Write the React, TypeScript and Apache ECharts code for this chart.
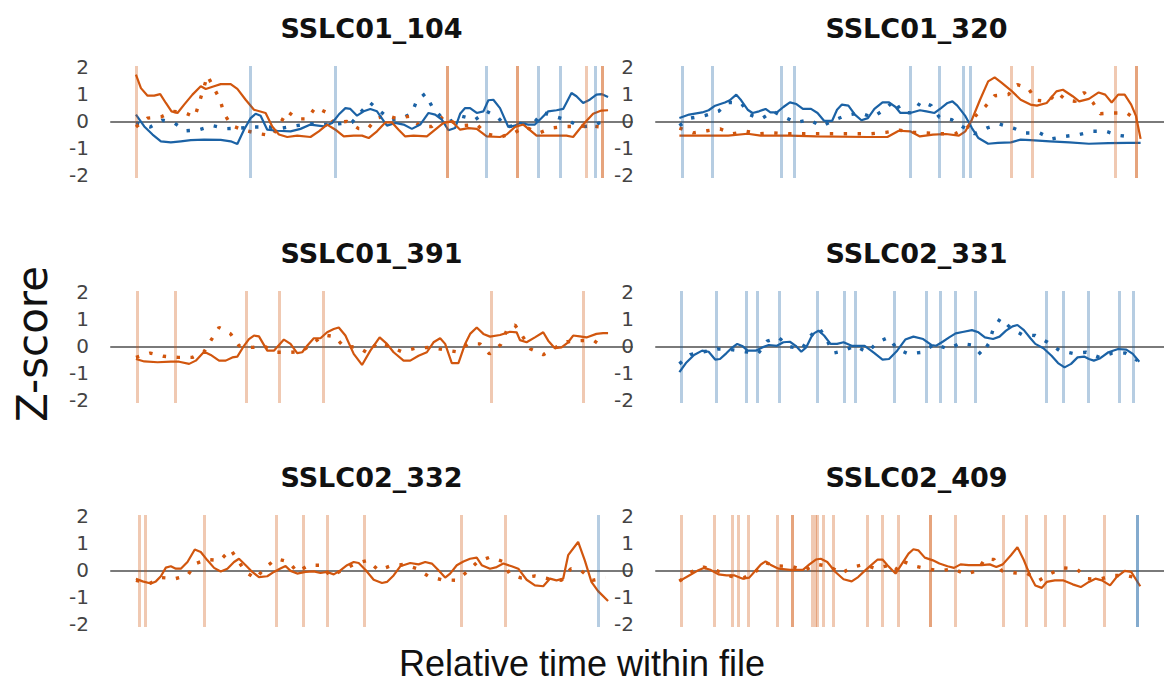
import React, { useEffect, useRef } from "react";
import * as echarts from "echarts";

// ---- data (relative time units, z-scores) ----
const panelNames = ["SSLC01_104", "SSLC01_320", "SSLC01_391", "SSLC02_331", "SSLC02_332", "SSLC02_409"];
const yTicks = [-2, -1, 0, 1, 2];

const p1OrangeSolid = [[0,1.73],[15,1.23],[35,0.95],[55,0.95],[73,1.01],[90,0.68],[107,0.37],[125,0.31],[145,0.62],[170,0.99],[195,1.30],[210,1.20],[235,1.30],[255,1.38],[285,1.38],[305,1.20],[330,0.80],[355,0.43],[390,0.31],[410,-0.19],[430,-0.49],[455,-0.58],[485,-0.53],[525,-0.58],[550,-0.37],[575,-0.12],[600,-0.31],[625,-0.56],[655,-0.53],[680,-0.53],[700,-0.62],[725,-0.37],[750,-0.04],[770,-0.04],[790,-0.31],[810,-0.56],[835,-0.53],[875,-0.56],[900,-0.31],[925,-0.06],[950,0],[975,-0.31],[1000,-0.25],[1025,-0.28],[1055,-0.56],[1095,-0.58],[1115,-0.49],[1140,-0.21],[1165,-0.12],[1205,-0.53],[1255,-0.53],[1295,-0.53],[1315,-0.58],[1345,-0.12],[1375,0.28],[1400,0.40],[1420,0.41]];
const p1BlueSolid = [[0,0.25],[25,-0.19],[50,-0.49],[75,-0.74],[105,-0.78],[135,-0.74],[165,-0.70],[205,-0.68],[255,-0.69],[285,-0.74],[305,-0.84],[325,-0.31],[345,0.12],[360,0.28],[375,0.21],[395,-0.31],[425,-0.35],[465,-0.37],[495,-0.28],[525,-0.12],[565,-0.19],[590,-0.06],[610,0.25],[630,0.49],[645,0.46],[665,0.21],[685,0.37],[705,0.46],[725,0.37],[755,-0.16],[780,-0.06],[805,-0.12],[830,-0.28],[855,-0.12],[880,0.31],[900,0.25],[920,0.06],[940,-0.33],[960,-0.25],[975,0.28],[990,0.49],[1005,0.49],[1025,0.31],[1045,0.37],[1060,0.78],[1075,0.80],[1095,0.49],[1120,-0.21],[1140,-0.16],[1155,-0.06],[1180,-0.12],[1200,-0.12],[1220,0.12],[1240,0.37],[1265,0.41],[1285,0.46],[1310,1.05],[1325,0.93],[1345,0.68],[1365,0.80],[1385,0.99],[1400,1.01],[1420,0.90]];
const p1BlueDotted = [[0,-0.06],[43,-0.21],[80,0.04],[115,-0.06],[150,-0.35],[190,-0.31],[230,-0.16],[273,-0.27],[315,-0.25],[357,-0.21],[400,-0.21],[440,-0.25],[483,-0.16],[525,-0.09],[565,-0.12],[610,-0.09],[650,-0.04],[677,0.35],[703,0.70],[735,0.37],[765,0.06],[803,0.12],[830,0.31],[845,0.78],[870,1.02],[890,0.56],[925,0.06],[945,0],[980,0.19],[1020,0.06],[1055,0.37],[1085,0.19],[1115,-0.21],[1155,-0.12],[1195,-0.09],[1223,0.33],[1255,0.19],[1300,0.04],[1335,-0.21],[1375,-0.16],[1415,0.06]];
const p1OrangeDotted = [[0,-0.21],[35,0.12],[75,0.16],[110,0.37],[145,0.33],[177,0.16],[190,0.68],[203,1.20],[215,1.69],[253,0.80],[265,0.28],[288,-0.16],[325,-0.33],[370,-0.46],[410,-0.53],[435,-0.06],[455,0.37],[485,0.09],[515,0.09],[540,0.52],[573,0.33],[595,-0.06],[635,0],[670,-0.27],[697,-0.28],[725,0.12],[755,0.21],[785,0.10],[823,0.19],[855,-0.19],[890,-0.19],[925,0.19],[955,-0.04],[985,-0.16],[1025,-0.12],[1055,-0.46],[1095,-0.59],[1140,-0.41],[1170,-0.21],[1213,-0.43],[1250,-0.25],[1290,-0.19],[1335,-0.19],[1360,-0.16],[1400,-0.21]];
const p1EventsOrange = [0, 935, 935, 1147, 1147, 1353, 1403, 1403];
const p1EventsBlue = [345, 600, 1055, 1210, 1277, 1380];

const p2BlueSolid = [[0,0.12],[30,0.25],[70,0.33],[90,0.41],[110,0.58],[140,0.70],[155,0.78],[175,0.99],[190,0.78],[210,0.43],[225,0.31],[245,0.37],[265,0.46],[280,0.33],[300,0.33],[320,0.53],[340,0.70],[360,0.64],[380,0.46],[405,0.46],[425,0.31],[445,0.02],[470,0.02],[485,0.43],[500,0.62],[520,0.58],[540,0.25],[560,0.04],[580,0.12],[600,0.46],[625,0.70],[645,0.70],[665,0.53],[680,0.31],[710,0.31],[740,0.41],[760,0.37],[785,0.31],[805,0.49],[825,0.68],[840,0.74],[855,0.58],[880,0.19],[900,-0.25],[920,-0.62],[950,-0.83],[980,-0.80],[1020,-0.78],[1050,-0.68],[1080,-0.70],[1140,-0.74],[1200,-0.78],[1260,-0.83],[1320,-0.81],[1380,-0.80],[1419,-0.80]];
const p2OrangeSolid = [[0,-0.53],[80,-0.53],[150,-0.53],[210,-0.46],[250,-0.53],[340,-0.53],[420,-0.56],[580,-0.58],[640,-0.58],[675,-0.35],[710,-0.37],[740,-0.56],[780,-0.49],[820,-0.47],[860,-0.53],[880,-0.37],[900,0.06],[925,0.80],[950,1.48],[970,1.63],[990,1.44],[1020,1.15],[1050,0.80],[1080,0.62],[1100,0.58],[1130,0.68],[1160,1.11],[1180,1.17],[1210,0.93],[1230,0.74],[1260,0.83],[1290,1.07],[1310,0.99],[1330,0.70],[1350,0.99],[1370,0.99],[1390,0.62],[1405,0.19],[1419,-0.65]];
const p2BlueDotted = [[0,-0.16],[35,0.12],[78,0.21],[120,0.37],[152,0.70],[190,0.68],[215,0.25],[252,0.09],[288,0.37],[323,0.15],[360,-0.04],[400,0.06],[437,-0.19],[475,0.04],[513,0.22],[555,0.31],[595,0.15],[630,0.43],[662,0.77],[685,0.33],[720,0.31],[743,0.74],[775,0.58],[800,0.15],[838,0.06],[870,-0.19],[908,-0.46],[945,-0.25],[985,-0.10],[1027,-0.25],[1065,-0.43],[1108,-0.43],[1145,-0.65],[1185,-0.56],[1230,-0.49],[1270,-0.37],[1312,-0.37],[1352,-0.52],[1398,-0.59]];
const p2OrangeDotted = [[0,-0.25],[42,-0.43],[85,-0.35],[125,-0.28],[165,-0.46],[205,-0.37],[248,-0.46],[290,-0.43],[335,-0.46],[377,-0.46],[420,-0.46],[463,-0.46],[505,-0.46],[548,-0.46],[590,-0.46],[635,-0.41],[677,-0.33],[720,-0.41],[762,-0.43],[805,-0.46],[848,-0.46],[885,-0.25],[910,0.19],[942,0.56],[970,0.95],[1012,0.99],[1040,1.36],[1073,1.23],[1098,0.78],[1135,0.74],[1162,1.07],[1190,0.78],[1218,0.74],[1245,1.07],[1272,0.70],[1295,0.28],[1335,0.31],[1377,0.31],[1410,0.02]];
const p2EventsOrange = [1020, 1085, 1340, 1407, 1407];
const p2EventsBlue = [8, 100, 312, 352, 710, 800, 873, 895];

const p3OrangeSolid = [[0,-0.47],[25,-0.56],[65,-0.59],[105,-0.57],[130,-0.57],[160,-0.65],[180,-0.53],[205,-0.20],[225,-0.32],[250,-0.53],[270,-0.53],[290,-0.41],[305,-0.38],[325,0.02],[340,0.27],[355,0.40],[370,0.37],[395,-0.16],[415,-0.16],[445,0.25],[465,0.09],[485,-0.25],[500,-0.22],[515,0.02],[535,0.30],[555,0.30],[575,0.52],[595,0.64],[610,0.70],[630,0.40],[655,-0.28],[680,-0.69],[705,-0.16],[733,0.33],[755,0.09],[775,-0.22],[805,-0.53],[825,-0.53],[850,-0.35],[875,-0.22],[895,0.15],[915,0.30],[930,0.09],[950,-0.62],[970,-0.62],[990,0.09],[1005,0.46],[1025,0.70],[1045,0.46],[1065,0.36],[1095,0.42],[1125,0.54],[1145,0.52],[1155,0.23],[1175,0.15],[1200,0.33],[1225,0.52],[1240,0.21],[1260,-0.07],[1280,-0.04],[1300,0.15],[1315,0.40],[1335,0.37],[1355,0.33],[1385,0.46],[1405,0.49],[1420,0.49]];
const p3OrangeDotted = [[0,-0.41],[43,-0.25],[83,-0.37],[127,-0.41],[170,-0.41],[205,-0.20],[227,0.25],[250,0.70],[285,0.46],[310,0.02],[350,-0.04],[387,0],[422,-0.22],[463,-0.22],[497,-0.20],[530,0.09],[565,0.42],[598,0.36],[627,-0.04],[665,-0.01],[697,-0.25],[727,0.15],[763,-0.01],[800,-0.20],[840,-0.07],[883,-0.04],[923,-0.12],[963,-0.20],[1000,0.09],[1035,0.09],[1063,-0.28],[1097,0.06],[1115,0.58],[1140,0.79],[1165,0.33],[1187,-0.10],[1225,-0.31],[1257,-0.07],[1297,0.17],[1335,0.21],[1375,0.23],[1411,-0.07]];
const p3EventsOrange = [5, 118, 332, 432, 562, 1068, 1345];
const p3EventsBlue: number[] = [];

const p4BlueSolid = [[0,-0.96],[20,-0.62],[45,-0.32],[70,-0.16],[90,-0.20],[110,-0.49],[125,-0.47],[145,-0.25],[160,-0.07],[178,0.09],[195,0],[210,-0.16],[235,-0.16],[255,-0.04],[275,0.05],[300,0.02],[320,0.15],[340,0.17],[358,0.02],[375,-0.20],[390,-0.04],[405,0.33],[415,0.49],[428,0.58],[445,0.40],[465,0.09],[485,0.09],[505,0.15],[530,0.02],[570,0.02],[600,-0.25],[625,-0.49],[645,-0.47],[670,-0.16],[695,0.25],[720,0.36],[750,0.27],[775,0.05],[790,0.02],[810,0.17],[830,0.33],[850,0.48],[875,0.54],[900,0.60],[920,0.52],[940,0.33],[965,0.27],[985,0.36],[1005,0.58],[1025,0.74],[1040,0.79],[1060,0.60],[1080,0.30],[1095,0.09],[1120,-0.07],[1145,-0.35],[1165,-0.62],[1185,-0.78],[1205,-0.65],[1225,-0.41],[1245,-0.38],[1260,-0.47],[1275,-0.53],[1295,-0.44],[1320,-0.22],[1350,-0.10],[1375,-0.12],[1395,-0.28],[1415,-0.57]];
const p4BlueDotted = [[0,-0.65],[33,-0.31],[75,-0.20],[117,-0.10],[158,-0.12],[202,-0.20],[243,-0.25],[270,0.19],[305,0.33],[338,-0.01],[377,-0.10],[400,0.36],[430,0.68],[455,0.21],[473,-0.25],[507,-0.16],[540,0.02],[578,-0.22],[610,0.15],[643,0.33],[670,-0.10],[705,-0.28],[748,-0.22],[785,0.09],[827,-0.10],[863,0.11],[900,0.05],[930,-0.32],[952,0.11],[965,0.62],[988,1.04],[1020,0.67],[1055,0.43],[1095,0.40],[1133,0.15],[1170,-0.16],[1210,-0.26],[1252,-0.22],[1292,-0.41],[1330,-0.26],[1372,-0.25],[1410,-0.53]];
const p4EventsOrange: number[] = [];
const p4EventsBlue = [5, 112, 205, 240, 308, 425, 508, 542, 662, 758, 802, 848, 910, 1130, 1182, 1257, 1352, 1395];

const p5OrangeSolid = [[0,-0.31],[20,-0.41],[45,-0.49],[60,-0.41],[75,-0.22],[90,0.10],[105,0.15],[120,0.06],[135,0.06],[155,0.31],[177,0.77],[195,0.68],[215,0.37],[235,0.09],[255,-0.04],[275,0.06],[295,0.31],[310,0.43],[330,0.19],[350,-0.06],[370,-0.25],[395,-0.22],[415,-0.06],[433,0.06],[450,0.16],[465,-0.02],[485,-0.12],[510,-0.06],[535,-0.04],[555,-0.10],[575,-0.06],[595,-0.15],[615,0],[635,0.19],[655,0.31],[670,0.27],[690,0.02],[715,-0.35],[740,-0.47],[755,-0.43],[775,-0.19],[795,0.15],[825,0.27],[850,0.22],[870,0.31],[890,0.25],[910,0],[930,-0.27],[945,-0.12],[965,0.19],[985,0.33],[1005,0.43],[1025,0.47],[1040,0.19],[1065,0.06],[1085,0.12],[1105,0.25],[1130,0.15],[1150,0.06],[1175,-0.35],[1200,-0.56],[1225,-0.59],[1245,-0.31],[1265,-0.37],[1285,-0.31],[1300,0.56],[1330,1.05],[1350,0.37],[1370,-0.43],[1390,-0.77],[1420,-1.14]];
const p5OrangeDotted = [[0,-0.37],[40,-0.49],[78,-0.27],[118,-0.31],[155,-0.19],[180,0.25],[213,0.40],[253,0.37],[285,0.77],[330,-0.06],[360,-0.31],[390,0.12],[423,0.43],[460,0.31],[485,-0.06],[520,0.19],[558,0.19],[585,-0.22],[620,0],[660,0.25],[697,0.37],[730,0],[765,0.16],[805,0.22],[845,0.06],[880,-0.22],[920,-0.35],[963,-0.37],[998,-0.04],[1027,0.31],[1065,0.49],[1103,0.33],[1125,-0.15],[1158,-0.28],[1200,-0.21],[1240,-0.31],[1280,-0.37],[1308,0.06],[1340,-0.02],[1373,-0.37],[1413,-0.27]];
const p5EventsOrange = [10, 27, 205, 422, 502, 575, 687, 977, 1110];
const p5EventsBlue = [1390];

const p6OrangeSolid = [[0,-0.40],[30,-0.19],[55,-0.02],[75,0.09],[95,0.02],[120,-0.15],[145,-0.19],[170,-0.19],[195,-0.31],[215,-0.27],[235,0],[250,0.21],[265,0.33],[280,0.21],[305,0.06],[340,0.02],[380,0.02],[400,0.22],[420,0.40],[435,0.43],[455,0.31],[480,-0.06],[505,-0.33],[530,-0.41],[550,-0.25],[570,-0.02],[590,0.19],[610,0.40],[625,0.40],[640,0.19],[665,-0.12],[685,0.25],[705,0.62],[720,0.78],[735,0.74],[755,0.47],[780,0.37],[800,0.25],[825,0.15],[845,0.09],[865,0.22],[890,0.19],[930,0.19],[955,0.22],[975,0.12],[995,0.22],[1020,0.56],[1040,0.86],[1060,0.37],[1080,-0.22],[1095,-0.56],[1115,-0.65],[1130,-0.43],[1155,-0.37],[1180,-0.37],[1210,-0.52],[1235,-0.62],[1260,-0.43],[1280,-0.31],[1300,-0.37],[1325,-0.56],[1345,-0.25],[1370,-0.02],[1390,-0.06],[1418,-0.59]];
const p6OrangeDotted = [[0,-0.40],[37,-0.06],[75,0.12],[113,0],[158,-0.22],[198,-0.28],[233,-0.06],[265,0.28],[302,0.16],[345,0.15],[385,0],[422,0.22],[462,0.15],[497,-0.12],[532,0.12],[568,0.21],[605,0.06],[645,0.19],[665,0],[685,0.35],[722,0.16],[762,0.06],[802,-0.02],[842,0.06],[882,-0.15],[918,0],[940,0.43],[968,0.40],[992,-0.02],[1028,-0.09],[1070,-0.12],[1107,-0.37],[1142,-0.12],[1180,0.09],[1222,0.06],[1255,-0.31],[1293,-0.33],[1335,-0.19],[1375,-0.19],[1415,-0.31]];
const p6EventsOrange = [5, 108, 162, 180, 212, 300, 348, 348, 410, 417, 425, 443, 472, 578, 623, 672, 773, 773, 850, 995, 1068, 1127, 1185, 1308];
const p6EventsBlue = [1408, 1408];

const panelSeries = [
  { orangeSolid: p1OrangeSolid, blueSolid: p1BlueSolid, orangeDotted: p1OrangeDotted, blueDotted: p1BlueDotted, evO: p1EventsOrange, evB: p1EventsBlue },
  { orangeSolid: p2OrangeSolid, blueSolid: p2BlueSolid, orangeDotted: p2OrangeDotted, blueDotted: p2BlueDotted, evO: p2EventsOrange, evB: p2EventsBlue },
  { orangeSolid: p3OrangeSolid, blueSolid: null, orangeDotted: p3OrangeDotted, blueDotted: null, evO: p3EventsOrange, evB: p3EventsBlue },
  { orangeSolid: null, blueSolid: p4BlueSolid, orangeDotted: null, blueDotted: p4BlueDotted, evO: p4EventsOrange, evB: p4EventsBlue },
  { orangeSolid: p5OrangeSolid, blueSolid: null, orangeDotted: p5OrangeDotted, blueDotted: null, evO: p5EventsOrange, evB: p5EventsBlue },
  { orangeSolid: p6OrangeSolid, blueSolid: null, orangeDotted: p6OrangeDotted, blueDotted: null, evO: p6EventsOrange, evB: p6EventsBlue },
];

// ---- styling ----
const ORANGE = "#D1560E";
const BLUE = "#1B62A5";
const ORANGE_EV = "rgba(209,86,14,0.32)";
const BLUE_EV = "rgba(27,98,165,0.32)";
const FONT = "DejaVu Sans";

export default function App() {
  const ref = useRef<HTMLDivElement>(null);
  useEffect(() => {
    if (!ref.current) return;
    const chart = echarts.init(ref.current, null, { renderer: "svg" });
    const colLeft = [111, 656];
    const colXMin = [-75, -72];
    const colXMax = [1492, 1491];
    const rowTop = [66, 291, 515];
    const gridW = 521;
    const gridH = 112;

    const grid: any[] = [];
    const xAxis: any[] = [];
    const yAxis: any[] = [];
    const series: any[] = [];
    const graphic: any[] = [];

    panelNames.forEach((name, i) => {
      const col = i % 2;
      const row = Math.floor(i / 2);
      grid.push({ left: colLeft[col], top: rowTop[row], width: gridW, height: gridH });
      xAxis.push({
        type: "value", gridIndex: i, min: colXMin[col], max: colXMax[col],
        axisLine: { show: true, onZero: true, lineStyle: { color: "#7a7a7a", width: 2 } },
        axisTick: { show: false }, axisLabel: { show: false }, splitLine: { show: false },
      });
      yAxis.push({
        type: "value", gridIndex: i, min: -2.1, max: 2.05,
        axisLine: { show: false }, axisTick: { show: false }, splitLine: { show: false },
        axisLabel: { show: true, customValues: yTicks, margin: 22, color: "#444", fontSize: 20, fontFamily: FONT },
      });
      const p = panelSeries[i];
      const evData = [
        ...p.evO.map((x) => ({ xAxis: x, lineStyle: { color: ORANGE_EV } })),
        ...p.evB.map((x) => ({ xAxis: x, lineStyle: { color: BLUE_EV } })),
      ];
      series.push({
        type: "line", xAxisIndex: i, yAxisIndex: i, data: [[0, 0]], showSymbol: false, silent: true,
        lineStyle: { opacity: 0 }, z: 1,
        markLine: {
          silent: true, symbol: ["none", "none"], label: { show: false }, animation: false,
          lineStyle: { type: "solid", width: 3 }, emphasis: { disabled: true },
          data: evData,
        },
      });
      const addLine = (data: any, color: string, dotted: boolean) => {
        if (!data) return;
        series.push({
          type: "line", xAxisIndex: i, yAxisIndex: i, data, showSymbol: false, silent: true, z: dotted ? 3 : 4,
          lineStyle: dotted
            ? { color, width: 3.4, type: [3.4, 10.5], cap: "butt" }
            : { color, width: 2.2, type: "solid" },
        });
      };
      addLine(p.blueDotted, BLUE, true);
      addLine(p.orangeDotted, ORANGE, true);
      addLine(p.blueSolid, BLUE, false);
      addLine(p.orangeSolid, ORANGE, false);

      graphic.push({
        type: "text", x: colLeft[col] + gridW / 2, y: rowTop[row] - 38,
        style: { text: name, textAlign: "center", textVerticalAlign: "middle", font: `bold 27px "${FONT}"`, fill: "#111" },
      });
    });

    graphic.push({
      type: "text", x: 32, y: 344, rotation: Math.PI / 2,
      style: { text: "Z-score", textAlign: "center", textVerticalAlign: "middle", font: `42px "${FONT}"`, fill: "#111" },
    });
    graphic.push({
      type: "text", x: 582, y: 663,
      style: { text: "Relative time within file", textAlign: "center", textVerticalAlign: "middle", font: `36px "Liberation Sans"`, fill: "#111" },
    });

    chart.setOption({ animation: false, grid, xAxis, yAxis, series, graphic });
    return () => chart.dispose();
  }, []);
  return <div ref={ref} style={{ position: "absolute", left: 0, top: 0, width: 1164, height: 688 }} />;
}
